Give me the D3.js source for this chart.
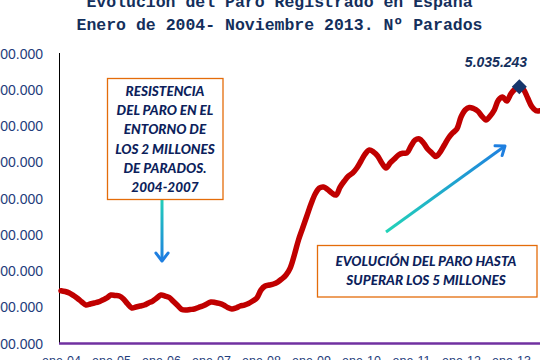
<!DOCTYPE html>
<html><head><meta charset="utf-8">
<script src="https://cdn.jsdelivr.net/npm/d3@7"></script>
<style>html,body{margin:0;padding:0;background:#fff;overflow:hidden}svg{display:block}</style>
</head><body>
<script>
const titleLines = ["Evolución del Paro Registrado en España", "Enero de 2004- Noviembre 2013. Nº Parados"];
const xTickLabels = ["ene-04","ene-05","ene-06","ene-07","ene-08","ene-09","ene-10","ene-11","ene-12","ene-13"];
const yTickValues = [1500000,2000000,2500000,3000000,3500000,4000000,4500000,5000000,5500000];
// Paro registrado, monthly, Jan 2004 .. Nov 2013 (millions)
const paro = [
 2.221,2.210,2.190,2.155,2.114,2.066,2.024,2.038,2.052,2.066,2.093,2.121,
 2.162,2.155,2.148,2.107,2.038,1.983,1.997,2.010,2.024,2.052,2.079,2.121,
 2.162,2.148,2.128,2.072,2.017,1.962,1.955,1.962,1.969,1.990,2.010,2.038,
 2.066,2.059,2.045,2.024,1.990,1.969,1.983,2.010,2.024,2.045,2.079,2.121,
 2.231,2.286,2.300,2.314,2.341,2.383,2.438,2.534,2.714,2.921,3.086,3.252,
 3.417,3.555,3.638,3.652,3.617,3.569,3.541,3.652,3.734,3.803,3.845,3.914,
 4.010,4.107,4.162,4.134,4.079,3.983,3.914,3.983,4.038,4.093,4.117,4.121,
 4.217,4.300,4.314,4.259,4.176,4.121,4.072,4.134,4.231,4.328,4.397,4.452,
 4.617,4.714,4.748,4.734,4.700,4.631,4.576,4.631,4.714,4.852,4.893,4.838,
 4.941,5.003,5.035243,4.997,4.879,4.759,4.704,4.704,4.724,4.811,4.809
];
const peakLabel = "5.035.243";
const peakIndex = 110; // Mar 2013
const note1 = ["RESISTENCIA","DEL PARO EN EL","ENTORNO DE","LOS 2 MILLONES","DE PARADOS.","2004-2007"];
const note2 = ["EVOLUCIÓN DEL PARO HASTA","SUPERAR LOS 5 MILLONES"];

const W = 540, H = 360;
const svg = d3.select("body").append("svg").attr("width", W).attr("height", H);
const defs = svg.append("defs");

const x = d3.scaleLinear().domain([0, 108]).range([61, 511]);
const y = d3.scaleLinear().domain([1500000, 5500000]).range([343, 53]);

const navy = "#142f5c";
const labBlue = "#1f3d7c";

// title
svg.append("g").selectAll("text").data(titleLines).join("text")
  .attr("x", 279.5).attr("y", (d,i) => 7 + i*23)
  .attr("text-anchor", "middle")
  .attr("font-family", "'Liberation Mono', 'DejaVu Sans Mono', monospace")
  .attr("font-weight", "bold").attr("font-size", 16.5)
  .attr("fill", navy).text(d => d);

// y axis labels
const yAxis = d3.axisLeft(y).tickValues(yTickValues).tickSize(0).tickPadding(0)
  .tickFormat(d => d3.format(",")(d).replace(/,/g, "."));
const gy = svg.append("g").attr("transform", "translate(43,0)").call(yAxis);
gy.select(".domain").remove();
gy.selectAll("text").attr("font-family", "'Liberation Sans', Arial, sans-serif")
  .attr("font-size", 14).attr("fill", labBlue).attr("dy", "0.36em");

// y axis line
svg.append("line").attr("x1", 59.5).attr("x2", 59.5).attr("y1", y(5500000)).attr("y2", y(1500000))
  .attr("stroke", "#000").attr("stroke-width", 1);

// x axis labels
const xAxis = d3.axisBottom(x).tickValues(d3.range(0, 109, 12)).tickSize(0).tickPadding(0)
  .tickFormat((d,i) => xTickLabels[i]);
const gx = svg.append("g").attr("transform", "translate(0,343)").call(xAxis);
gx.select(".domain").remove();
gx.selectAll("text").attr("font-family", "'Liberation Sans', Arial, sans-serif")
  .attr("font-size", 12.5).attr("fill", labBlue).attr("y", 21.5).attr("dy", 0);

// x axis line (purple)
svg.append("line").attr("x1", 59).attr("x2", W).attr("y1", 343.5).attr("y2", 343.5)
  .attr("stroke", "#7030a0").attr("stroke-width", 2.5);

// line
const line = d3.line().x((d,i) => x(i)).y(d => y(d*1e6)).curve(d3.curveCatmullRom.alpha(0.5));
svg.append("path").datum(paro).attr("d", line)
  .attr("fill", "none").attr("stroke", "#c00000").attr("stroke-width", 5.5)
  .attr("stroke-linejoin", "round").attr("stroke-linecap", "round");

// peak marker
const px = x(peakIndex), py = y(paro[peakIndex]*1e6);
svg.append("rect").attr("x", -5.3).attr("y", -5.3).attr("width", 10.6).attr("height", 10.6)
  .attr("transform", `translate(${px},${py}) rotate(45)`).attr("fill", "#17366b");
svg.append("text").attr("x", 496).attr("y", 67).attr("text-anchor", "middle")
  .attr("font-family", "'Liberation Sans', Arial, sans-serif").attr("font-weight", "bold")
  .attr("font-style", "italic").attr("font-size", 14).attr("fill", navy).text(peakLabel);

// gradients for arrows
function grad(id, x1, y1, x2, y2) {
  const g = defs.append("linearGradient").attr("id", id).attr("gradientUnits", "userSpaceOnUse")
    .attr("x1", x1).attr("y1", y1).attr("x2", x2).attr("y2", y2);
  g.append("stop").attr("offset", 0).attr("stop-color", "#22d3b8");
  g.append("stop").attr("offset", 1).attr("stop-color", "#1e7fe0");
}
function arrow(id, x1, y1, x2, y2) {
  grad(id, x1, y1, x2, y2);
  const a = Math.atan2(y2 - y1, x2 - x1), L = 10, sp = 0.65;
  const p1 = [x2 - L*Math.cos(a - sp), y2 - L*Math.sin(a - sp)];
  const p2 = [x2 - L*Math.cos(a + sp), y2 - L*Math.sin(a + sp)];
  const g = svg.append("g").attr("stroke", `url(#${id})`).attr("fill", "none")
    .attr("stroke-width", 3).attr("stroke-linecap", "round").attr("stroke-linejoin", "round");
  g.append("line").attr("x1", x1).attr("y1", y1).attr("x2", x2).attr("y2", y2).attr("stroke-linecap", "butt");
  g.append("path").attr("d", `M${p1}L${x2},${y2}L${p2}`).attr("stroke", "#1e7fe0");
}
arrow("g1", 162, 196, 162, 261);
arrow("g2", 386, 232, 505, 146);

// note boxes
function note(lines, bx, by, bw, bh, cx, y0, lh) {
  svg.append("rect").attr("x", bx).attr("y", by).attr("width", bw).attr("height", bh)
    .attr("fill", "#fff").attr("stroke", "#e46c0a").attr("stroke-width", 1.3);
  svg.append("g").selectAll("text").data(lines).join("text")
    .attr("x", cx).attr("y", (d,i) => y0 + i*lh).attr("text-anchor", "middle")
    .attr("font-family", "Lato, 'Open Sans', sans-serif").attr("font-weight", "900")
    .attr("font-style", "italic").attr("font-size", 13.5).attr("fill", "#0d1f5c")
    .attr("dy", "0.35em").text(d => d);
}
note(note1, 107.5, 78.5, 115.5, 121, 165, 91, 19.3);
note(note2, 317.5, 245.5, 219.5, 51.5, 426, 261, 19);
</script>
</body></html>
